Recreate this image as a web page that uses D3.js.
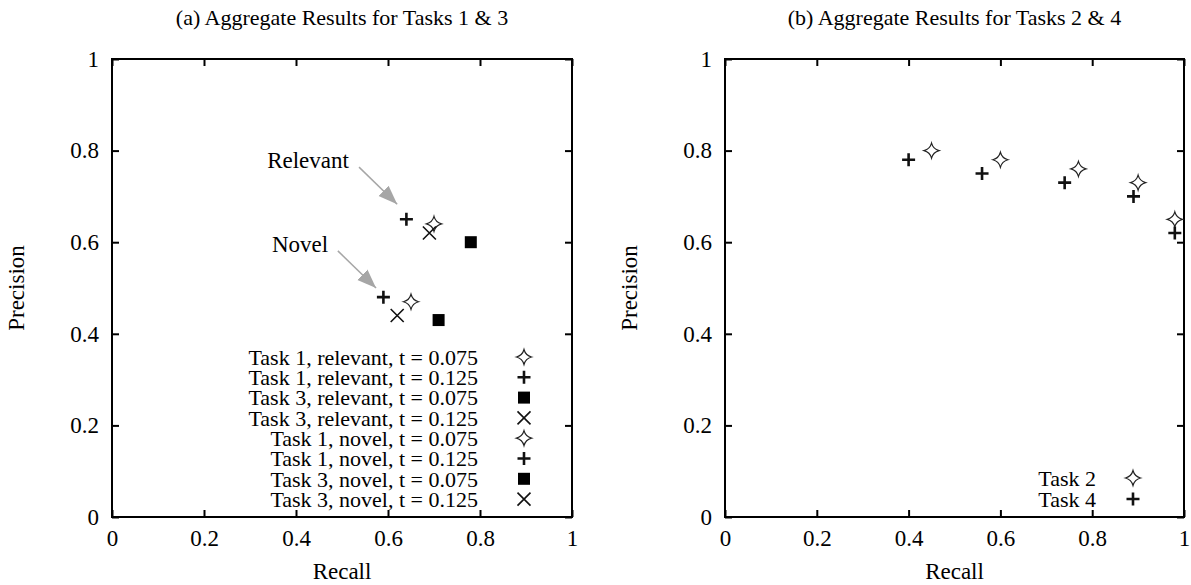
<!DOCTYPE html>
<html>
<head>
<meta charset="utf-8">
<script src="https://cdn.jsdelivr.net/npm/d3@7"></script>
<style>
  body { margin: 0; background: #fff; }
  svg text { font-family: "Liberation Serif", "Times New Roman", serif; font-size: 23px; fill: #000; }
</style>
</head>
<body>
<svg width="1191" height="585"></svg>
<script>
// ---- data ----
const ticks = [0, 0.2, 0.4, 0.6, 0.8, 1];
const tickLabels = ["0", "0.2", "0.4", "0.6", "0.8", "1"];

const seriesA = [
  {name: "Task 1, relevant, t = 0.075", shape: "star",   pts: [[0.70, 0.64]]},
  {name: "Task 1, relevant, t = 0.125", shape: "plus",   pts: [[0.64, 0.65]]},
  {name: "Task 3, relevant, t = 0.075", shape: "square", pts: [[0.78, 0.60]]},
  {name: "Task 3, relevant, t = 0.125", shape: "cross",  pts: [[0.69, 0.62]]},
  {name: "Task 1, novel, t = 0.075",    shape: "star",   pts: [[0.65, 0.47]]},
  {name: "Task 1, novel, t = 0.125",    shape: "plus",   pts: [[0.59, 0.48]]},
  {name: "Task 3, novel, t = 0.075",    shape: "square", pts: [[0.71, 0.43]]},
  {name: "Task 3, novel, t = 0.125",    shape: "cross",  pts: [[0.62, 0.44]]}
];

const task2 = [[0.45, 0.80], [0.60, 0.78], [0.77, 0.76], [0.90, 0.73], [0.98, 0.65]];
const task4 = [[0.40, 0.78], [0.56, 0.75], [0.74, 0.73], [0.89, 0.70], [0.98, 0.62]];
const seriesB = [
  {name: "Task 2", shape: "star", pts: task2},
  {name: "Task 4", shape: "plus", pts: task4}
];

// annotations in plot (a): label, arrow start, arrow tip
const notes = [
  {text: "Relevant", at: [0.515, 0.78], from: [0.537, 0.764], to: [0.62, 0.683]},
  {text: "Novel",    at: [0.47, 0.597], from: [0.491, 0.581], to: [0.574, 0.50]}
];

const svg = d3.select("svg");

// arrow head
svg.append("defs").append("marker")
  .attr("id", "head")
  .attr("viewBox", "0 0 10 10")
  .attr("refX", 10).attr("refY", 5)
  .attr("markerWidth", 19).attr("markerHeight", 19)
  .attr("markerUnits", "userSpaceOnUse")
  .attr("orient", "auto")
  .append("path")
  .attr("d", "M0,1.2 L10,5 L0,8.8 Z")
  .attr("fill", "#a6a6a6");

function drawMarker(g, shape, x, y) {
  if (shape === "star") {
    const r = 7.5, k = 1.6;
    const p = d3.path();
    p.moveTo(x, y - r);
    p.quadraticCurveTo(x + k, y - k, x + r, y);
    p.quadraticCurveTo(x + k, y + k, x, y + r);
    p.quadraticCurveTo(x - k, y + k, x - r, y);
    p.quadraticCurveTo(x - k, y - k, x, y - r);
    p.closePath();
    g.append("path").attr("d", p.toString())
      .attr("fill", "none").attr("stroke", "#222").attr("stroke-width", 1.2);
  } else if (shape === "plus") {
    const r = 6.5;
    g.append("path").attr("d", `M${x - r},${y}H${x + r}M${x},${y - r}V${y + r}`)
      .attr("stroke", "#111").attr("stroke-width", 2.6);
  } else if (shape === "square") {
    g.append("rect").attr("x", x - 6).attr("y", y - 6)
      .attr("width", 12).attr("height", 12).attr("fill", "#000");
  } else if (shape === "cross") {
    const r = 6.5;
    g.append("path").attr("d", `M${x - r},${y - r}L${x + r},${y + r}M${x - r},${y + r}L${x + r},${y - r}`)
      .attr("stroke", "#111").attr("stroke-width", 1.6);
  }
}

function panel(box, title, series, legend) {
  const x = d3.scaleLinear().domain([0, 1]).range([box.l, box.r]);
  const y = d3.scaleLinear().domain([0, 1]).range([box.b, box.t]);
  const g = svg.append("g");

  // mirrored inner ticks
  const fmt = (d, i) => tickLabels[i];
  g.append("g").attr("transform", `translate(0,${box.b})`)
    .call(d3.axisBottom(x).tickValues(ticks).tickFormat(fmt).tickSizeInner(-7).tickSizeOuter(0).tickPadding(13));
  g.append("g").attr("transform", `translate(0,${box.t})`)
    .call(d3.axisTop(x).tickValues(ticks).tickFormat("").tickSizeInner(-7).tickSizeOuter(0));
  g.append("g").attr("transform", `translate(${box.l},0)`)
    .call(d3.axisLeft(y).tickValues(ticks).tickFormat(fmt).tickSizeInner(-7).tickSizeOuter(0).tickPadding(13));
  g.append("g").attr("transform", `translate(${box.r},0)`)
    .call(d3.axisRight(y).tickValues(ticks).tickFormat("").tickSizeInner(-7).tickSizeOuter(0));
  g.selectAll(".domain").remove();
  g.selectAll(".tick line").attr("stroke", "#000").attr("stroke-width", 2);
  g.selectAll(".tick text").style("font-size", "23px")
    .style("font-family", '"Liberation Serif", serif').attr("fill", "#000");

  g.append("rect").attr("x", box.l).attr("y", box.t)
    .attr("width", box.r - box.l).attr("height", box.b - box.t)
    .attr("fill", "none").attr("stroke", "#000").attr("stroke-width", 2);

  g.append("text").attr("x", (box.l + box.r) / 2).attr("y", 25)
    .attr("text-anchor", "middle").style("font-size", "22px").text(title);
  g.append("text").attr("x", (box.l + box.r) / 2).attr("y", 579)
    .attr("text-anchor", "middle").text("Recall");
  g.append("text")
    .attr("transform", `translate(${box.l - 88},${(box.t + box.b) / 2}) rotate(-90)`)
    .attr("text-anchor", "middle").text("Precision");

  series.forEach(s => s.pts.forEach(p => drawMarker(g, s.shape, x(p[0]), y(p[1]))));

  series.forEach((s, i) => {
    const ly = legend.y + i * legend.dy;
    g.append("text").attr("x", legend.tx).attr("y", ly)
      .attr("text-anchor", "end").attr("dy", "0.35em")
      .style("font-size", "22px").text(s.name);
    drawMarker(g, s.shape, legend.mx, ly);
  });

  return {x, y, g};
}

const a = panel({l: 112, r: 572, t: 59, b: 517}, "(a) Aggregate Results for Tasks 1 & 3", seriesA,
  {tx: 478, mx: 524, y: 357, dy: 20.3});
panel({l: 725, r: 1184, t: 59, b: 517}, "(b) Aggregate Results for Tasks 2 & 4", seriesB,
  {tx: 1096, mx: 1133, y: 478, dy: 21});

notes.forEach(n => {
  a.g.append("line")
    .attr("x1", a.x(n.from[0])).attr("y1", a.y(n.from[1]))
    .attr("x2", a.x(n.to[0])).attr("y2", a.y(n.to[1]))
    .attr("stroke", "#a6a6a6").attr("stroke-width", 1.5)
    .attr("marker-end", "url(#head)");
  a.g.append("text").attr("x", a.x(n.at[0])).attr("y", a.y(n.at[1]))
    .attr("text-anchor", "end").attr("dy", "0.35em").text(n.text);
});
</script>
</body>
</html>
